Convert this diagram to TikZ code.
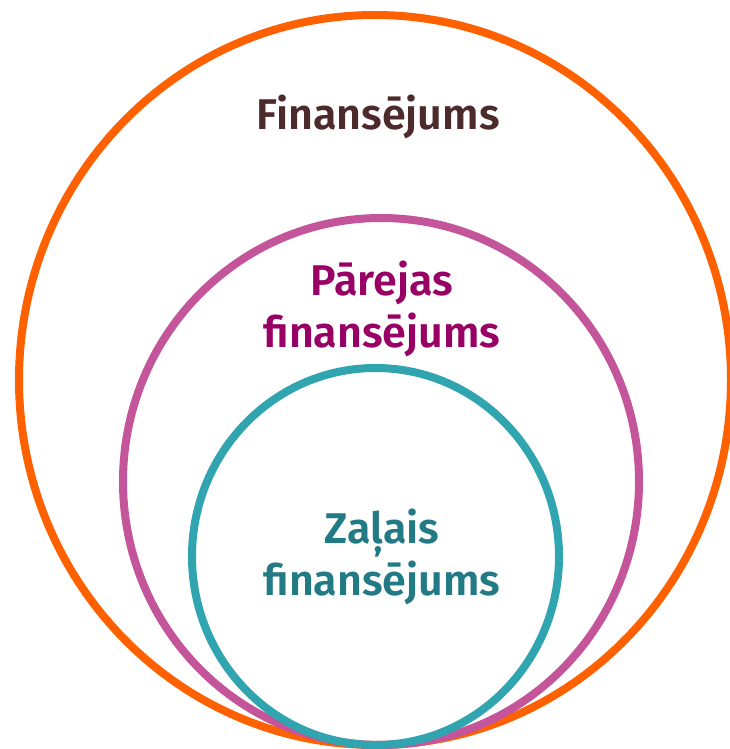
\documentclass[tikz,border=0pt]{standalone}
\usepackage{fontspec}
\setmainfont{Fira Sans}[BoldFont={Fira Sans SemiBold}]
\definecolor{ringOrange}{HTML}{FF6000}
\definecolor{ringPink}{HTML}{C4559B}
\definecolor{ringTeal}{HTML}{30A5B0}
\definecolor{txtBrown}{HTML}{4D2A2C}
\definecolor{txtPurple}{HTML}{990066}
\definecolor{txtTeal}{HTML}{227A84}
\tikzstyle{ring}=[line width=8pt]
\tikzstyle{lbl}=[inner sep=0pt,anchor=base,align=center,font=\fontsize{43}{52}\selectfont\bfseries]

\begin{document}
\begin{tikzpicture}[x=1pt,y=-1pt]
    \useasboundingbox (0,0) rectangle (730,749);
    \draw[ring,draw=ringOrange] (375,380) ellipse [x radius=356, y radius=365];
    \draw[ring,draw=ringPink] (381,481.5) ellipse [x radius=258, y radius=263.5];
    \draw[ring,draw=ringTeal] (375.5,556.5) ellipse [x radius=183.5, y radius=188.5];

    \node[lbl,text=txtBrown] (fin) at (378,130) {Finansējums};
    \node[lbl,text=txtPurple] (pf) at (382,347) {Pārejas\\finansējums};
    \node[lbl,text=txtTeal] (zf) at (382,595) {Zaļais\\finansējums};
\end{tikzpicture}
\end{document}
